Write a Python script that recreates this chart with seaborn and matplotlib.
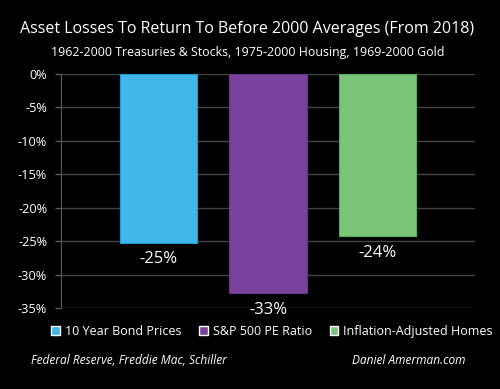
import matplotlib
matplotlib.use("Agg")
import matplotlib.pyplot as plt
import seaborn as sns
import pandas as pd

# data
series = ["10 Year Bond Prices", "S&P 500 PE Ratio", "Inflation-Adjusted Homes"]
losses = [-25.2, -32.8, -24.3]
labels = ["-25%", "-33%", "-24%"]
colors = ["#41b6e8", "#7a429c", "#79c579"]
yticks = [0, -5, -10, -15, -20, -25, -30, -35]

df = pd.DataFrame({"group": ["all"] * 3, "series": series, "loss": losses})

sns.set_style("dark")
plt.rcParams["font.family"] = ["Open Sans", "DejaVu Sans"]

fig = plt.figure(figsize=(5.0, 3.89), dpi=100, facecolor="black")
ax = fig.add_axes([0.122, 0.208, 0.828, 0.602])
ax.set_facecolor("black")

sns.barplot(data=df, x="group", y="loss", hue="series", palette=colors,
            saturation=1, width=0.8, gap=0.29, ax=ax, legend=True)

edge = ["#1e9fd8", "#693490", "#4fb25a"]
for cont, col in zip(ax.containers, edge):
    for b in cont:
        b.set_edgecolor(col)
        b.set_linewidth(0.8)

for cont, lab in zip(ax.containers, labels):
    ax.bar_label(cont, labels=[lab], padding=6, color="white", fontsize=12)

ax.set_xlim(-0.504, 0.504)
ax.set_ylim(-35, 0)
ax.set_yticks(yticks)
ax.set_yticklabels([f"{t}%" for t in yticks], color="white", fontsize=9.2)
ax.set_xticks([])
ax.set_xlabel("")
ax.set_ylabel("")
ax.grid(axis="y", color="#444444", linewidth=1)
ax.grid(axis="x", visible=False)
ax.tick_params(axis="y", length=4, color="#5a5a5a", width=1, pad=6, left=True)
for s in ["top", "right", "bottom"]:
    ax.spines[s].set_visible(False)
ax.spines["left"].set_visible(True)
ax.spines["left"].set_color("#5a5a5a")

leg = ax.legend(loc="center", bbox_to_anchor=(0.51, -0.1), ncol=3, frameon=False,
                fontsize=9, labelcolor="white", handlelength=0.7, handleheight=0.7,
                handletextpad=0.4, columnspacing=1.4)

fig.text(0.495, 0.925, "Asset Losses To Return To Before 2000 Averages (From 2018)",
         color="white", fontsize=11.5, ha="center", va="center")
fig.text(0.495, 0.866, "1962-2000 Treasuries & Stocks, 1975-2000 Housing, 1969-2000 Gold",
         color="white", fontsize=8.9, ha="center", va="center")
fig.text(0.062, 0.073, "Federal Reserve, Freddie Mac, Schiller", color="white",
         fontsize=8.6, style="italic", ha="left", va="center")
fig.text(0.932, 0.073, "Daniel Amerman.com", color="white",
         fontsize=8.6, style="italic", ha="right", va="center")

fig.savefig("out.png", dpi=100, facecolor="black")
